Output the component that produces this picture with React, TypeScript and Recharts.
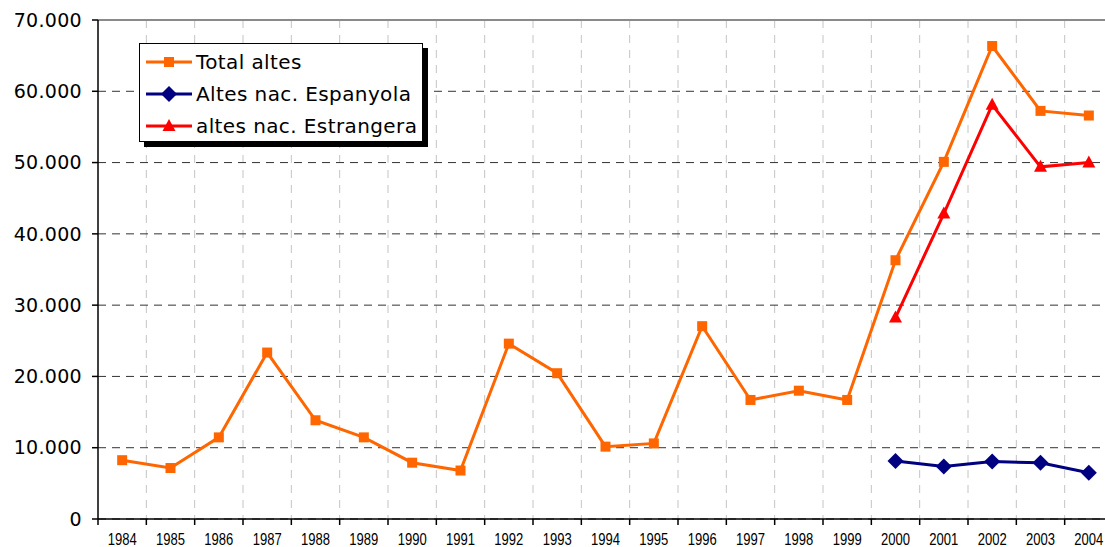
import { LineChart, Line, XAxis, YAxis, CartesianGrid, ReferenceLine } from 'recharts';

const years = ['1984', '1985', '1986', '1987', '1988', '1989', '1990', '1991', '1992', '1993', '1994', '1995', '1996', '1997', '1998', '1999', '2000', '2001', '2002', '2003', '2004'];
const totalAltes = [8250, 7150, 11450, 23350, 13850, 11450, 7900, 6800, 24600, 20450, 10150, 10600, 27050, 16700, 18000, 16700, 36300, 50100, 66350, 57250, 56600];
const altesEspanyola = [null, null, null, null, null, null, null, null, null, null, null, null, null, null, null, null, 8150, 7350, 8050, 7900, 6500];
const altesEstrangera = [null, null, null, null, null, null, null, null, null, null, null, null, null, null, null, null, 28250, 42850, 58100, 49400, 50000];
const yTicks = [0, 10000, 20000, 30000, 40000, 50000, 60000, 70000];

const data = years.map((year, i) => ({
    year,
    total: totalAltes[i],
    espanyola: altesEspanyola[i],
    estrangera: altesEstrangera[i],
}));

const seriesInfo = [
    { key: 'total', name: 'Total altes', color: '#FF6600', shape: 'square' },
    { key: 'espanyola', name: 'Altes nac. Espanyola', color: '#000080', shape: 'diamond' },
    { key: 'estrangera', name: 'altes nac. Estrangera', color: '#FF0000', shape: 'triangle' },
];

const CHART_W = 1113;
const CHART_H = 547;
const LEFT = 98;
const TOP = 20;
const BOTTOM_AXIS = 28;

const fmt = (v: number) => (v === 0 ? '0' : v.toLocaleString('de-DE'));

const Marker = ({ cx, cy, shape, color }: any) => {
    if (cx == null || cy == null || isNaN(cx) || isNaN(cy)) return null;
    if (shape === 'square') {
        return <rect x={cx - 5} y={cy - 5} width={10} height={10} fill={color} />;
    }
    if (shape === 'diamond') {
        return <polygon points={`${cx},${cy - 8} ${cx + 8},${cy} ${cx},${cy + 8} ${cx - 8},${cy}`} fill={color} />;
    }
    return <polygon points={`${cx},${cy - 7} ${cx + 6.5},${cy + 5} ${cx - 6.5},${cy + 5}`} fill={color} />;
};

const LegendMark = ({ shape, color }: any) => (
    <svg width={48} height={16} style={{ display: 'block' }}>
        <line x1={1} y1={8} x2={47} y2={8} stroke={color} strokeWidth={3} />
        <Marker cx={24} cy={8} shape={shape} color={color} />
    </svg>
);

const LegendBox = () => (
    <div
        style={{
            position: 'absolute',
            left: 139,
            top: 43,
            boxSizing: 'border-box',
            width: 284,
            height: 99,
            background: '#fff',
            border: '1px solid #000',
            boxShadow: '5px 5px 0 #000',
            padding: '2px 0 0 5px',
            fontFamily: '"DejaVu Sans", Verdana, sans-serif',
            fontSize: 20,
            letterSpacing: 0.4,
            color: '#000',
            whiteSpace: 'nowrap',
        }}
    >
        {seriesInfo.map((s) => (
            <div key={s.key} style={{ display: 'flex', alignItems: 'center', height: 32 }}>
                <LegendMark shape={s.shape} color={s.color} />
                <span style={{ marginLeft: 3, lineHeight: '32px' }}>{s.name}</span>
            </div>
        ))}
    </div>
);

const YearTick = ({ x, y, payload }: any) => {
    const band = (CHART_W - LEFT) / years.length;
    const axisY = y - 10;
    return (
        <g>
            <line x1={x - band / 2} y1={axisY} x2={x - band / 2} y2={axisY + 6} stroke="#000" strokeWidth={1.5} />
            <text
                x={x}
                y={axisY}
                dy={26}
                textAnchor="middle"
                fill="#000"
                fontSize={16}
                textLength={29}
                lengthAdjust="spacingAndGlyphs"
                fontFamily='"Liberation Sans", Arial, sans-serif'
            >
                {payload.value}
            </text>
        </g>
    );
};

const verticalBounds = ({ offset }: any) => {
    const band = offset.width / years.length;
    return years.map((_, i) => offset.left + band * (i + 1));
};

export default function App() {
    return (
        <div style={{ position: 'absolute', left: 0, top: 0, width: 1105, height: 547, overflow: 'hidden', background: '#fff' }}>
            <LineChart width={CHART_W} height={CHART_H} data={data} margin={{ top: TOP, right: 0, left: 0, bottom: 0 }}>
                <CartesianGrid
                    vertical
                    horizontal={false}
                    stroke="#c4c4c4"
                    strokeDasharray="8 7"
                    verticalCoordinatesGenerator={verticalBounds}
                />
                <CartesianGrid vertical={false} stroke="#333" strokeDasharray="8 6" />
                <ReferenceLine y={70000} stroke="#8a8a8a" strokeWidth={2} />
                <XAxis
                    dataKey="year"
                    scale="band"
                    interval={0}
                    height={BOTTOM_AXIS}
                    tickLine={false}
                    tickSize={6}
                    tickMargin={4}
                    axisLine={{ stroke: '#000', strokeWidth: 1.5 }}
                    tick={<YearTick />}
                />
                <YAxis
                    width={LEFT}
                    domain={[0, 70000]}
                    ticks={yTicks}
                    tickFormatter={fmt}
                    tickSize={6}
                    tickMargin={10}
                    axisLine={{ stroke: '#000', strokeWidth: 1.5 }}
                    tickLine={{ stroke: '#000', strokeWidth: 1.5 }}
                    tick={{ fill: '#000', fontSize: 19, fontFamily: '"DejaVu Sans", Verdana, sans-serif', letterSpacing: 0.3 }}
                />
                {seriesInfo.map((s) => (
                    <Line
                        key={s.key}
                        type="linear"
                        dataKey={s.key}
                        name={s.name}
                        stroke={s.color}
                        strokeWidth={3}
                        dot={(p: any) => <Marker key={`${s.key}-${p.index}`} cx={p.cx} cy={p.cy} shape={s.shape} color={s.color} />}
                        activeDot={false}
                        isAnimationActive={false}
                    />
                ))}
            </LineChart>
            <LegendBox />
        </div>
    );
}
